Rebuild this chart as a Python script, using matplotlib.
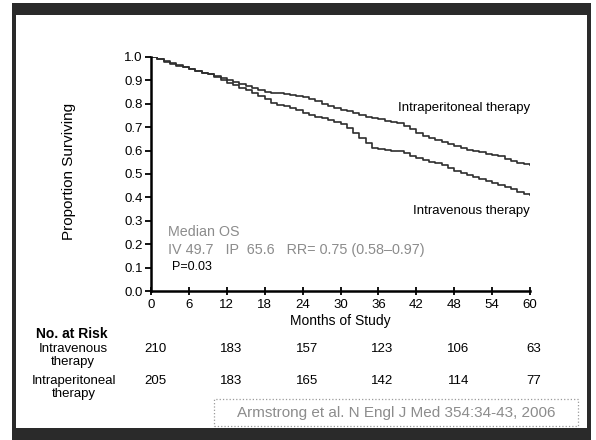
import matplotlib.pyplot as plt
from matplotlib.patches import Rectangle

plt.rcParams['font.family'] = ['Liberation Sans', 'DejaVu Sans']

# Kaplan-Meier curves (months, proportion surviving)
months = list(range(0, 61))
ip_surv = [1.0, 0.99, 0.982, 0.972, 0.965, 0.958, 0.95, 0.94, 0.933, 0.926,
           0.92, 0.912, 0.903, 0.893, 0.884, 0.875, 0.866, 0.858, 0.852, 0.848,
           0.845, 0.842, 0.838, 0.835, 0.83, 0.822, 0.812, 0.8, 0.79, 0.782,
           0.775, 0.768, 0.76, 0.752, 0.745, 0.739, 0.733, 0.727, 0.722, 0.717,
           0.706, 0.692, 0.676, 0.662, 0.654, 0.645, 0.636, 0.626, 0.618, 0.611,
           0.604, 0.597, 0.592, 0.586, 0.581, 0.578, 0.562, 0.556, 0.548, 0.543,
           0.54]
iv_surv = [1.0, 0.99, 0.98, 0.97, 0.962, 0.955, 0.948, 0.94, 0.932, 0.925,
           0.915, 0.903, 0.89, 0.878, 0.866, 0.857, 0.848, 0.835, 0.82, 0.805,
           0.795, 0.79, 0.782, 0.772, 0.76, 0.752, 0.745, 0.737, 0.73, 0.722,
           0.712, 0.695, 0.675, 0.655, 0.632, 0.612, 0.607, 0.603, 0.6, 0.597,
           0.588, 0.578, 0.57, 0.56, 0.553, 0.545, 0.537, 0.525, 0.513, 0.504,
           0.495, 0.487, 0.478, 0.468, 0.461, 0.455, 0.444, 0.436, 0.424, 0.415,
           0.41]

risk_months = [0, 12, 24, 36, 48, 60]
risk_iv = [210, 183, 157, 123, 106, 63]
risk_ip = [205, 183, 165, 142, 114, 77]

fig = plt.figure(figsize=(5.96, 4.40), dpi=100)
ax = fig.add_axes([0.2534, 0.3386, 0.6359, 0.532])

ax.step(months, ip_surv, where='post', color='#2e2e2e', lw=1.2)
ax.step(months, iv_surv, where='post', color='#2e2e2e', lw=1.2)

ax.set_xlim(0, 60)
ax.set_ylim(0, 1.0)
ax.set_xticks(range(0, 61, 6))
ax.set_yticks([i / 10 for i in range(11)])
ax.set_yticklabels(['%.1f' % (i / 10) for i in range(11)])
for s in ['top', 'right']:
    ax.spines[s].set_visible(False)
for s in ['left', 'bottom']:
    ax.spines[s].set_linewidth(1.8)
ax.tick_params(axis='y', direction='out', length=4, width=1.3, labelsize=9.5, pad=2)
ax.tick_params(axis='x', direction='inout', length=6, width=1.3, labelsize=9.5, pad=3)
ax.set_xlabel('Months of Study', fontsize=10, labelpad=2)
ax.set_ylabel('Proportion Surviving', fontsize=11, labelpad=8)
ax.yaxis.set_label_coords(-0.197, 0.51)

ax.text(60, 0.78, 'Intraperitoneal therapy', ha='right', va='center', fontsize=9.5)
ax.text(60, 0.34, 'Intravenous therapy', ha='right', va='center', fontsize=9.5)
ax.text(2.7, 0.25, 'Median OS', ha='left', va='center', fontsize=10.3, color='#8c8c8c')
ax.text(2.7, 0.175, 'IV 49.7   IP  65.6   RR= 0.75 (0.58\u20130.97)', ha='left', va='center',
        fontsize=10.4, color='#8c8c8c')
ax.text(3.3, 0.103, 'P=0.03', ha='left', va='center', fontsize=9)

# number at risk table
def fy(py):
    return (440 - py) / 440

fig.text(72 / 596, fy(334), 'No. at Risk', ha='center', va='center', fontsize=10, fontweight='bold')
fig.text(73 / 596, fy(349), 'Intravenous', ha='center', va='center', fontsize=9.5)
fig.text(73 / 596, fy(362), 'therapy', ha='center', va='center', fontsize=9.5)
fig.text(74 / 596, fy(380.5), 'Intraperitoneal', ha='center', va='center', fontsize=9.5)
fig.text(74 / 596, fy(393.5), 'therapy', ha='center', va='center', fontsize=9.5)
for m, a, b in zip(risk_months, risk_iv, risk_ip):
    xf = ax.transData.transform((m, 0))[0] / fig.bbox.width
    xf += 4 / 596
    fig.text(xf, fy(349), str(a), ha='center', va='center', fontsize=9.5)
    fig.text(xf, fy(380.5), str(b), ha='center', va='center', fontsize=9.5)

# citation box
fig.add_artist(Rectangle((214 / 596, fy(426)), 364 / 596, 27 / 440, transform=fig.transFigure,
                         fill=False, edgecolor='#9a9a9a', lw=0.9, linestyle=':'))
fig.text(396 / 596, fy(412.5), 'Armstrong et al. N Engl J Med 354:34-43, 2006',
         ha='center', va='center', fontsize=11, color='#8c8c8c')

# slide frame
frame = '#2a2a2a'
fig.add_artist(Rectangle((12 / 596, fy(15)), 579 / 596, 12 / 440, transform=fig.transFigure,
                         color=frame, lw=0))
fig.add_artist(Rectangle((12 / 596, 0), 579 / 596, 12 / 440, transform=fig.transFigure,
                         color=frame, lw=0))
fig.add_artist(Rectangle((12 / 596, 0), 4 / 596, 437 / 440, transform=fig.transFigure,
                         color=frame, lw=0))
fig.add_artist(Rectangle((587 / 596, 0), 4 / 596, 437 / 440, transform=fig.transFigure,
                         color=frame, lw=0))

fig.savefig('out.png', dpi=100)
